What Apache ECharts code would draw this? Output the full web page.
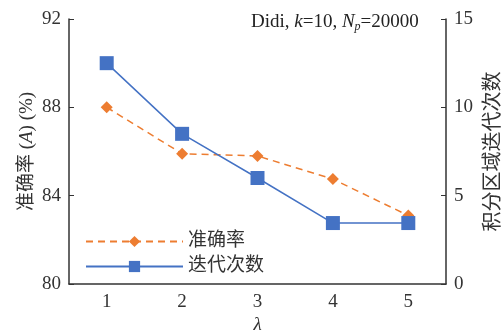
<!DOCTYPE html>
<html><head><meta charset="utf-8">
<script src="https://cdn.jsdelivr.net/npm/echarts@6/dist/echarts.min.js"></script>
<style>html,body{margin:0;padding:0;background:#fff}#c{width:502px;height:331px}</style>
</head><body><div id="c"></div>
<script>
const categories = ['1','2','3','4','5'];
const accuracy = [88.0, 85.9, 85.8, 84.75, 83.1];
const iterations = [12.5, 8.5, 6.0, 3.45, 3.45];
const leftTicks = [80, 84, 88, 92];
const rightTicks = [0, 5, 10, 15];

const serif = '"Liberation Serif","Times New Roman","Noto Sans CJK SC",serif';
const chart = echarts.init(document.getElementById('c'));
const axisCol = '#333';
chart.setOption({
  animation: false,
  textStyle: {fontFamily: serif},
  grid: {left: 69, right: 56, top: 19, bottom: 47, outerBoundsMode: 'none', containLabel: false},
  title: {
    text: '{n|Didi, }{i|k}{n|=10, }{i|N}{s|p}{n|=20000}',
    left: 246, top: 6,
    textStyle: {
      fontWeight: 'normal',
      rich: {
        n: {fontFamily: serif, fontSize: 19, fontWeight: 'normal', color: '#222'},
        i: {fontFamily: serif, fontSize: 19, fontStyle: 'italic', fontWeight: 'normal', color: '#222'},
        s: {fontFamily: serif, fontSize: 12, fontStyle: 'italic', fontWeight: 'normal', color: '#222', padding: [10, 0, 0, 0]}
      }
    }
  },
  legend: {
    orient: 'vertical', left: 80, top: 227,
    itemWidth: 97, itemHeight: 14, itemGap: 6,
    textStyle: {fontFamily: serif, fontSize: 19, color: '#333', padding: [0, 0, 0, 0]},
    data: ['准确率', '迭代次数']
  },
  xAxis: {
    type: 'category', data: categories, boundaryGap: true,
    name: 'λ', nameLocation: 'middle', nameGap: 31, nameMoveOverlap: false,
    nameTextStyle: {fontFamily: serif, fontSize: 19, fontStyle: 'italic', color: '#333'},
    axisLine: {lineStyle: {color: axisCol, width: 1.5}},
    axisTick: {inside: true, alignWithLabel: true, length: 5, lineStyle: {color: axisCol}},
    axisLabel: {fontFamily: serif, fontSize: 19, color: '#333', margin: 9},
    splitLine: {show: false}
  },
  yAxis: [{
    type: 'value', min: leftTicks[0], max: leftTicks[leftTicks.length-1], interval: 4,
    name: '准确率 ({i|A}) (%)', nameLocation: 'middle', nameGap: 32, nameRotate: 90, nameMoveOverlap: false,
    nameTextStyle: {fontFamily: serif, fontSize: 19, color: '#333',
      rich: {i: {fontFamily: serif, fontSize: 19, fontStyle: 'italic', color: '#333'}}},
    axisLine: {show: true, lineStyle: {color: axisCol, width: 1.5}},
    axisTick: {show: true, inside: true, length: 5, lineStyle: {color: axisCol}},
    axisLabel: {fontFamily: serif, fontSize: 19, color: '#333', margin: 8},
    splitLine: {show: false}
  }, {
    type: 'value', min: rightTicks[0], max: rightTicks[rightTicks.length-1], interval: 5,
    position: 'right',
    name: '积分区域迭代次数', nameLocation: 'middle', nameGap: 38, nameRotate: 90, nameMoveOverlap: false,
    nameTextStyle: {fontFamily: serif, fontSize: 20, color: '#333'},
    axisLine: {show: true, lineStyle: {color: axisCol, width: 1.5}},
    axisTick: {show: true, inside: true, length: 5, lineStyle: {color: axisCol}},
    axisLabel: {fontFamily: serif, fontSize: 19, color: '#333', margin: 8},
    splitLine: {show: false}
  }],
  series: [{
    name: '准确率', type: 'line', yAxisIndex: 0, data: accuracy,
    symbol: 'diamond', symbolSize: 12,
    itemStyle: {color: '#ED7D31'},
    lineStyle: {color: '#ED7D31', width: 1.5, type: [7, 5]}
  }, {
    name: '迭代次数', type: 'line', yAxisIndex: 1, data: iterations,
    symbol: 'rect', symbolSize: 14,
    itemStyle: {color: '#4472C4'},
    lineStyle: {color: '#4472C4', width: 1.5}
  }]
});
</script></body></html>
